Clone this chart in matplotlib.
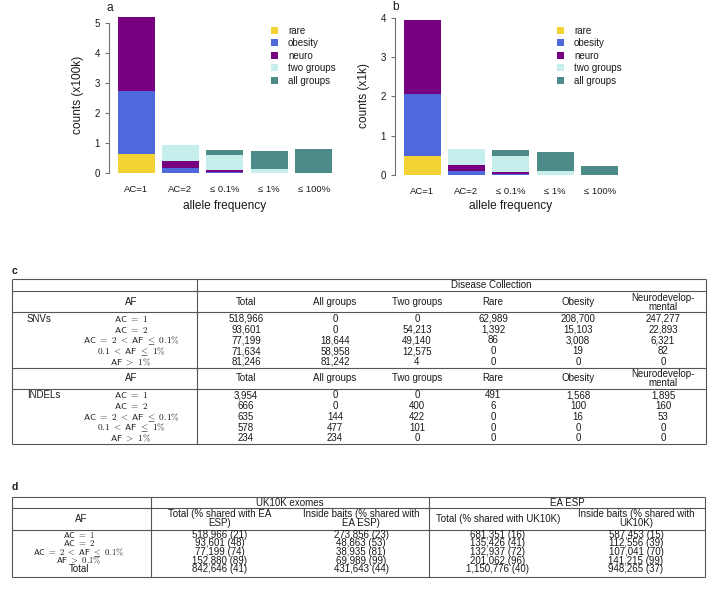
import matplotlib
matplotlib.use('Agg')
import matplotlib.pyplot as plt
from matplotlib.patches import Patch

plt.rcParams['font.family'] = ['Liberation Sans', 'DejaVu Sans']
plt.rcParams['mathtext.fontset'] = 'cm'

TFAM = ['Liberation Sans', 'DejaVu Sans']
FS = 7.0    # table text size
MFS = 6.7   # size of the math (AF) labels in table c
MFS_D = 6.3  # size of the math (AF) labels in table d

# ---------------- data ----------------
categories = ['AC=1', 'AC=2', '\u2264 0.1%', '\u2264 1%', '\u2264 100%']
group_labels = ['rare', 'obesity', 'neuro', 'two groups', 'all groups']
group_colors = ['#F3D333', '#4F69DC', '#76007F', '#C6EEED', '#4C8B88']

# SNVs (table c, upper block)
snv_total = [518966, 93601, 77199, 71634, 81246]
snv_all = [0, 0, 18644, 58958, 81242]
snv_two = [0, 54213, 49140, 12575, 4]
snv_rare = [62989, 1392, 86, 0, 0]
snv_obesity = [208700, 15103, 3008, 19, 0]
snv_neuro = [247277, 22893, 6321, 82, 0]

# INDELs (table c, lower block)
indel_total = [3954, 666, 635, 578, 234]
indel_all = [0, 0, 144, 477, 234]
indel_two = [0, 400, 422, 101, 0]
indel_rare = [491, 6, 0, 0, 0]
indel_obesity = [1568, 100, 16, 0, 0]
indel_neuro = [1895, 160, 53, 0, 0]

af_labels_c = [r'$\mathsf{AC}\ =\ 1$', r'$\mathsf{AC}\ =\ 2$',
               r'$\mathsf{AC}\ =\ 2\ <\ \mathsf{AF}\ \leq\ 0.1\%$',
               r'$0.1\ <\ \mathsf{AF}\ \leq\ 1\%$', r'$\mathsf{AF}\ >\ 1\%$']
headers_c = ['Total', 'All groups', 'Two groups', 'Rare', 'Obesity', 'Neurodevelop-\nmental']

# table d
af_labels_d = [r'$\mathsf{AC}\ =\ 1$', r'$\mathsf{AC}\ =\ 2$',
               r'$\mathsf{AC}\ =\ 2\ <\ \mathsf{AF}\ \leq\ 0.1\%$',
               r'$\mathsf{AF}\ >\ 0.1\%$', 'Total']
uk_total = [518966, 93601, 77199, 152880, 842646]
uk_total_pct = [21, 48, 74, 89, 41]
uk_bait = [273856, 48863, 38935, 69989, 431643]
uk_bait_pct = [23, 53, 81, 99, 44]
ea_total = [681351, 135426, 132937, 201062, 1150776]
ea_total_pct = [16, 41, 72, 96, 40]
ea_bait = [587453, 112556, 107041, 141215, 948265]
ea_bait_pct = [15, 39, 70, 99, 37]
headers_d = ['Total (% shared with EA\nESP)', 'Inside baits (% shared with\nEA ESP)',
             'Total (% shared with UK10K)', 'Inside baits (% shared with\nUK10K)']

# ---------------- figure ----------------
W, H = 708, 589
fig = plt.figure(figsize=(W / 100, H / 100), dpi=100)
TXT = '#1a1a1a'
AXC = '#707070'
LINE = '#555555'


def rect(l, r, t, b):
    return [l / W, 1 - b / H, (r - l) / W, (b - t) / H]


# full-figure axes for tables and free text (pixel coords)
tax = fig.add_axes([0, 0, 1, 1])
tax.set_xlim(0, W)
tax.set_ylim(H, 0)
tax.axis('off')


def T(x, y, s, ha='center', fs=None, **kw):
    # y is the visual centre of the digits / capitals; align on baseline
    tax.text(x, y + 3.4, s, ha=ha, va='baseline', fontsize=fs or FS, color=TXT,
             family=TFAM, **kw)


def barchart(pos, series, scale, ticks, ylab, ylab_xy, letter, letter_xy, leg_xy):
    ax = fig.add_axes(rect(*pos))
    lefts = [0.2 + 1.2 * i for i in range(len(categories))]
    bottom = [0.0] * len(categories)
    for vals, col, lab in zip(series, group_colors, group_labels):
        h = [v / scale for v in vals]
        ax.bar(lefts, h, width=1.0, bottom=bottom, align='edge', color=col,
               linewidth=0, label=lab)
        bottom = [b + x for b, x in zip(bottom, h)]
    ymax = max(bottom)
    ax.set_xlim(-0.032, 6.232)
    ax.set_ylim(-0.04 * ymax, 1.04 * ymax)
    for s in ['top', 'right', 'bottom']:
        ax.spines[s].set_visible(False)
    ax.spines['left'].set_bounds(ticks[0], ticks[-1])
    ax.spines['left'].set_color(AXC)
    ax.spines['left'].set_linewidth(0.8)
    ax.set_yticks(ticks)
    ax.set_yticklabels([str(t) for t in ticks])
    ax.tick_params(axis='y', length=3, width=0.8, color=AXC, labelsize=7,
                   labelcolor=TXT, pad=3.5)
    ax.set_xticks([l + 0.5 for l in lefts])
    ax.set_xticklabels(categories)
    ax.tick_params(axis='x', length=0, labelsize=6.8, labelcolor=TXT, pad=4)
    ax.patch.set_alpha(0)
    # axis labels
    xc = (pos[0] + pos[1]) / 2
    tax.text(xc, 206, 'allele frequency', ha='center', va='center', fontsize=8.6, color=TXT)
    tax.text(ylab_xy[0], ylab_xy[1], ylab, ha='center', va='center', rotation=90,
             fontsize=8.6, color=TXT)
    tax.text(letter_xy[0], letter_xy[1], letter, ha='center', va='center',
             fontsize=8.6, color=TXT)
    handles = [Patch(facecolor=c, edgecolor='none') for c in group_colors]
    ax.legend(handles, group_labels, loc='upper left',
              bbox_to_anchor=(leg_xy[0] / W, 1 - leg_xy[1] / H),
              bbox_transform=fig.transFigure, frameon=False, fontsize=7,
              handlelength=0.75, handleheight=0.75, handletextpad=1.0,
              labelspacing=0.26, borderpad=0, borderaxespad=0,
              labelcolor=TXT)
    return ax


barchart((109, 340.8, 11, 179.2),
         [snv_rare, snv_obesity, snv_neuro, snv_two, snv_all], 1e5,
         [0, 1, 2, 3, 4, 5], 'counts (x100k)', (78, 95), 'a', (110, 8), (271, 25.5))
barchart((395, 626.8, 13.6, 181.2),
         [indel_rare, indel_obesity, indel_neuro, indel_two, indel_all], 1e3,
         [0, 1, 2, 3, 4], 'counts (x1k)', (364, 96), 'b', (396, 7.5), (557, 25.5))

# ---------------- table c ----------------
lw = 0.8


def hline(y, x0, x1):
    tax.plot([x0, x1], [y, y], color=LINE, lw=lw, solid_capstyle='butt')


def vline(x, y0, y1):
    tax.plot([x, x], [y0, y1], color=LINE, lw=lw, solid_capstyle='butt')


cx0, cx1 = 12, 706
for y in [279, 291, 312, 368, 389, 444]:
    hline(y, cx0, cx1)
for x in [cx0, 197, cx1]:
    vline(x, 279, 444)

tax.text(12, 271, 'c', ha='left', va='center', fontsize=7.5, fontweight='bold', color=TXT)
T(491, 285, 'Disease Collection')

col_x_c = [246, 335, 417, 493, 578, 663]
af_x_c = 131
step_c = 10.75
blocks = [
    ('SNVs', 302, 318.5, [snv_total, snv_all, snv_two, snv_rare, snv_obesity, snv_neuro]),
    ('INDELs', 378, 395, [indel_total, indel_all, indel_two, indel_rare, indel_obesity, indel_neuro]),
]
for name, hy, ry0, cols in blocks:
    T(af_x_c, hy, 'AF')
    for x, hd in zip(col_x_c, headers_c):
        if '\n' in hd:
            top, bot = hd.split('\n')
            T(x, hy - 4.7, top)
            T(x, hy + 4.7, bot)
        else:
            T(x, hy, hd)
    T(27, ry0, name, ha='left')
    for i, lab in enumerate(af_labels_c):
        y = ry0 + i * step_c
        T(af_x_c, y, lab, fs=MFS)
        for x, col in zip(col_x_c, cols):
            T(x, y, f'{col[i]:,}')

# ---------------- table d ----------------
dx0, dx1 = 12, 705
for y in [497, 508, 530, 577]:
    hline(y, dx0, dx1)
for x in [dx0, 151, 429, dx1]:
    vline(x, 497, 577)

tax.text(12, 487, 'd', ha='left', va='center', fontsize=7.5, fontweight='bold', color=TXT)
T(290, 503, 'UK10K exomes')
T(567, 503, 'EA ESP')
T(81, 519, 'AF')
col_x_d = [220, 361, 498, 636]
for x, hd in zip(col_x_d, headers_d):
    if '\n' in hd:
        top, bot = hd.split('\n')
        T(x, 514, top)
        T(x, 523, bot)
    else:
        T(x, 518.5, hd)
step_d = 8.6
cols_d = [(uk_total, uk_total_pct), (uk_bait, uk_bait_pct),
          (ea_total, ea_total_pct), (ea_bait, ea_bait_pct)]
for i, lab in enumerate(af_labels_d):
    y = 534.5 + i * step_d
    T(79, y, lab, fs=MFS_D if '$' in lab else FS)
    for x, (v, p) in zip(col_x_d, cols_d):
        T(x, y, f'{v[i]:,} ({p[i]})')

fig.savefig('out.png', dpi=100)
